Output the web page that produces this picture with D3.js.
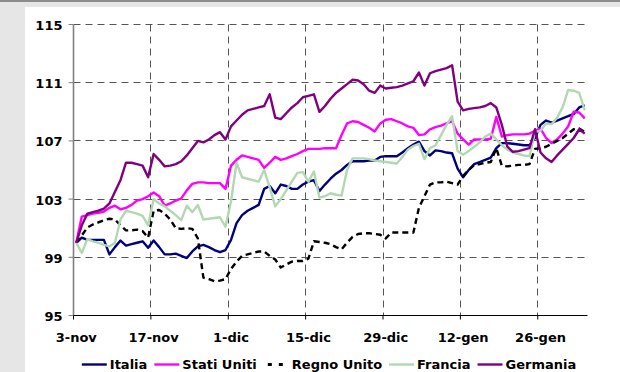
<!DOCTYPE html>
<html>
<head>
<meta charset="utf-8">
<script src="https://cdn.jsdelivr.net/npm/d3@7"></script>
<style>
  body { margin: 0; background: #e6e6e6; }
  svg { display: block; }
  text { font-family: "DejaVu Sans", Verdana, sans-serif; font-weight: bold; font-size: 13px; fill: #000; }
</style>
</head>
<body>
<svg id="chart" width="620" height="372"></svg>
<script>
// Daily index levels, 3 Nov 2008 = 100, one value per calendar day (3 Nov 2008 – 3 Feb 2009)
const startDate = "2008-11-03";
const endDate = "2009-02-04"; // end of the last daily band

const tickDates = ["2008-11-03", "2008-11-17", "2008-12-01", "2008-12-15", "2008-12-29", "2009-01-12", "2009-01-26"];
const tickLabels = ["3-nov", "17-nov", "1-dic", "15-dic", "29-dic", "12-gen", "26-gen"];
const yTicks = [95, 99, 103, 107, 111, 115];

const seriesNames = ["Italia", "Stati Uniti", "Regno Unito", "Francia", "Germania"];

const italia = [
  100.0, 100.35, 100.2, 100.2, 100.2, 100.2, 99.2, 99.7, 100.15, 99.8,
  99.9, 100.0, 100.1, 99.65, 100.15, 99.7, 99.2, 99.2, 99.25, 99.1,
  98.95, 99.4, 99.75, 99.85, 99.7, 99.5, 99.35, 99.5, 100.2, 101.35,
  101.9, 102.2, 102.4, 102.6, 103.7, 103.9, 103.4, 104.0, 103.9, 103.7,
  103.7, 104.0, 104.2, 104.3, 103.55, 104.0, 104.4, 104.75, 105.0, 105.35,
  105.6, 105.6, 105.6, 105.65, 105.65, 105.9, 105.95, 105.95, 105.95, 106.2,
  106.5, 106.75, 106.95, 106.3, 106.0, 106.35, 106.3, 106.2, 106.15, 105.1,
  104.5, 105.0, 105.4, 105.55, 105.7, 105.85, 106.5, 106.85, 106.85, 106.8,
  106.75, 106.7, 106.7, 107.2, 108.1, 108.4, 108.25, 108.4, 108.55, 108.7,
  108.85, 109.3, 109.45
];

const statiUniti = [
  100.0, 101.8, 101.9, 102.0, 102.05, 102.15, 102.4, 102.55, 102.3, 102.4,
  102.6, 102.9, 103.0, 103.2, 103.45, 103.2, 102.55, 102.7, 102.9, 103.05,
  103.6, 104.05, 104.15, 104.15, 104.1, 104.1, 104.1, 103.7, 105.3, 105.7,
  106.0, 105.9, 105.8, 105.7, 105.15, 105.5, 105.9, 105.7, 105.8, 105.95,
  106.1, 106.3, 106.45, 106.45, 106.45, 106.5, 106.5, 106.5, 107.4, 108.2,
  108.35, 108.3, 108.1, 107.9, 107.65, 108.2, 108.45, 108.5, 108.35, 108.2,
  108.0, 107.9, 107.4, 107.45, 107.8, 107.95, 108.05, 108.2, 108.35, 107.5,
  107.1, 106.75, 107.1, 107.1, 107.1, 107.15, 108.65, 107.3, 107.4, 107.45,
  107.45, 107.45, 107.5, 107.7, 107.85, 107.2, 106.85, 107.1, 107.5, 108.0,
  109.0, 108.95, 108.55
];

const regnoUnito = [
  100.0, 100.5, 101.05, 101.25, 101.4, 101.55, 101.65, 101.6, 101.2, 100.85,
  100.85, 100.9, 100.8, 100.35, 102.2, 102.25, 102.0, 101.6, 101.0, 100.95,
  101.0, 100.95, 100.3, 97.6, 97.5, 97.35, 97.4, 97.5, 98.2, 98.7,
  99.1, 99.2, 99.3, 99.4, 99.4, 99.1, 98.85, 98.3, 98.5, 98.7,
  98.75, 98.75, 98.9, 100.1, 100.05, 100.0, 99.9, 99.7, 99.55, 100.0,
  100.4, 100.6, 100.65, 100.65, 100.6, 100.55, 100.3, 100.7, 100.7, 100.7,
  100.7, 100.7, 102.4, 103.2, 104.0, 104.15, 104.15, 104.2, 104.1, 104.0,
  104.6, 105.0, 105.35, 105.4, 105.5, 105.55, 106.5, 105.3, 105.25, 105.3,
  105.35, 105.35, 105.4, 106.45, 106.5, 106.6, 106.8, 107.0, 107.2, 107.5,
  107.8, 107.85, 107.6
];

const francia = [
  100.0, 99.3, 100.25, 100.1, 100.0, 99.85, 99.75, 100.0, 101.6, 102.2,
  102.1, 102.0, 101.85, 101.2, 103.0, 102.7, 102.5, 102.2, 101.9, 101.55,
  102.55, 102.1, 102.6, 101.6, 101.65, 101.7, 101.75, 101.1, 102.85, 105.5,
  104.5, 104.4, 104.3, 104.2, 105.0, 103.8, 102.5, 103.0, 103.6, 104.2,
  104.8, 104.85, 104.2, 104.9, 103.1, 103.2, 103.4, 103.3, 103.25, 105.0,
  105.8, 105.8, 105.8, 105.75, 105.65, 105.6, 105.55, 105.5, 105.45, 105.9,
  106.4, 106.65, 106.8, 105.75, 106.5, 106.7, 107.4, 108.1, 108.7, 106.3,
  106.05, 106.3, 106.6, 106.9, 107.3, 107.5, 107.1, 106.7, 106.4, 106.2,
  106.1, 106.0, 105.95, 107.6, 107.7, 108.2, 108.15, 108.6, 109.3, 110.5,
  110.45, 110.3, 109.1
];

const germania = [
  100.0, 101.2, 102.0, 102.1, 102.2, 102.35, 102.7, 103.5, 104.3, 105.5,
  105.5, 105.4, 105.3, 104.5, 106.1, 105.7, 105.25, 105.3, 105.4, 105.6,
  106.0, 106.5, 107.0, 106.9, 107.1, 107.4, 107.6, 107.1, 108.0, 108.4,
  108.8, 109.1, 109.2, 109.3, 109.4, 110.2, 108.6, 108.5, 108.9, 109.3,
  109.6, 110.0, 110.1, 110.2, 109.0, 109.4, 109.9, 110.3, 110.6, 110.9,
  111.2, 111.15, 110.9, 110.45, 110.3, 110.8, 110.6, 110.65, 110.7, 110.8,
  110.95, 111.1, 111.7, 110.8, 111.65, 111.8, 111.9, 112.0, 112.2, 109.7,
  109.1, 109.2, 109.25, 109.3, 109.4, 109.6, 109.3, 108.1, 106.6, 106.25,
  106.3, 106.4, 106.5, 107.8, 106.2, 105.8, 105.55, 106.0, 106.4, 106.8,
  107.2, 107.8, 107.5
];

const seriesValues = [italia, statiUniti, regnoUnito, francia, germania];
const seriesColors = ["#000080", "#ff00ff", "#000000", "#b2d8b2", "#800080"];
const seriesDash = [null, null, "6,4", null, null];

const svg = d3.select("#chart");

// page frame: grey surround, dark top rule, white chart area
svg.append("rect").attr("width", 620).attr("height", 372).attr("fill", "#e6e6e6");
svg.append("rect").attr("width", 620).attr("height", 2).attr("fill", "#8c8c8c");
svg.append("rect").attr("x", 25).attr("y", 7).attr("width", 595).attr("height", 365).attr("fill", "#ffffff");

const parse = d3.utcParse("%Y-%m-%d");
const start = parse(startDate);
const end = parse(endDate);
const days = d3.utcDay.range(start, end);
const midDay = d => d3.utcHour.offset(d, 12);
const ticks = tickDates.map(parse);

const x = d3.scaleUtc().domain([start, end]).range([73.5, 587.5]);
const y = d3.scaleLinear().domain([95, 115]).range([315.5, 24.5]);
const halfDay = x(midDay(start)) - x(start);
const snap = v => Math.floor(v) + 0.5;

// dashed gridlines
const grid = svg.append("g")
  .attr("stroke", "#555")
  .attr("stroke-width", 1)
  .attr("stroke-dasharray", "7,5")
  .attr("fill", "none");

grid.selectAll("line.h")
  .data(yTicks.filter(v => v > 95))
  .join("line")
  .attr("class", "h")
  .attr("x1", x.range()[0]).attr("x2", x.range()[1])
  .attr("y1", d => snap(y(d))).attr("y2", d => snap(y(d)));

grid.selectAll("line.v")
  .data(ticks.slice(1))
  .join("line")
  .attr("class", "v")
  .attr("x1", d => snap(x(d))).attr("x2", d => snap(x(d)))
  .attr("y1", y.range()[1]).attr("y2", y.range()[0]);

// y axis
const yAxis = svg.append("g")
  .attr("transform", `translate(${x.range()[0]},0)`)
  .call(d3.axisLeft(y).tickValues(yTicks).tickSize(5).tickSizeOuter(0).tickPadding(6).offset(0)
    .tickFormat(d3.format("d")));
yAxis.select(".domain").attr("stroke", "#808080").attr("stroke-width", 1.6);
yAxis.selectAll(".tick line").attr("stroke", "#808080");
yAxis.selectAll(".tick text").attr("dy", "0.42em");
yAxis.attr("font-family", null).attr("font-size", null);

// x axis (labels centred on the day band)
const xAxis = svg.append("g")
  .attr("transform", `translate(0,${y.range()[0]})`)
  .call(d3.axisBottom(x).tickValues(ticks).tickSize(4).tickSizeOuter(0).offset(0)
    .tickFormat((d, i) => tickLabels[i]));
xAxis.select(".domain").attr("stroke", "#000").attr("stroke-width", 1);
xAxis.selectAll(".tick line").attr("stroke", "#000");
xAxis.selectAll(".tick text").attr("x", halfDay).attr("y", 26).attr("dy", 0);
xAxis.attr("font-family", null).attr("font-size", null);

// series lines
const line = d3.line()
  .x((d, i) => x(midDay(days[i])))
  .y(d => y(d));

svg.append("g").selectAll("path")
  .data(seriesValues)
  .join("path")
  .attr("d", d => line(d))
  .attr("fill", "none")
  .attr("stroke", (d, i) => seriesColors[i])
  .attr("stroke-width", 2.4)
  .attr("stroke-linejoin", "round")
  .attr("stroke-dasharray", (d, i) => seriesDash[i]);

// legend
const legend = svg.append("g");
const items = legend.selectAll("g")
  .data(seriesNames)
  .join("g");
items.append("line")
  .attr("x1", 0).attr("x2", 25).attr("y1", 0).attr("y2", 0)
  .attr("stroke", (d, i) => seriesColors[i])
  .attr("stroke-width", (d, i) => seriesDash[i] ? 3 : 2.4)
  .attr("stroke-dasharray", (d, i) => seriesDash[i] ? "4,7" : null)
  .attr("stroke-dashoffset", (d, i) => seriesDash[i] ? -4 : null);
items.append("text")
  .attr("x", 28)
  .attr("y", 0)
  .attr("dy", "0.36em")
  .text(d => d);

let cursor = 0;
items.each(function () {
  const w = 28 + this.querySelector("text").getComputedTextLength();
  d3.select(this).attr("transform", `translate(${cursor},0)`);
  cursor += w + 7;
});
const legendWidth = cursor - 7;
legend.attr("transform", `translate(${329 - legendWidth / 2},364.5)`);
</script>
</body>
</html>
